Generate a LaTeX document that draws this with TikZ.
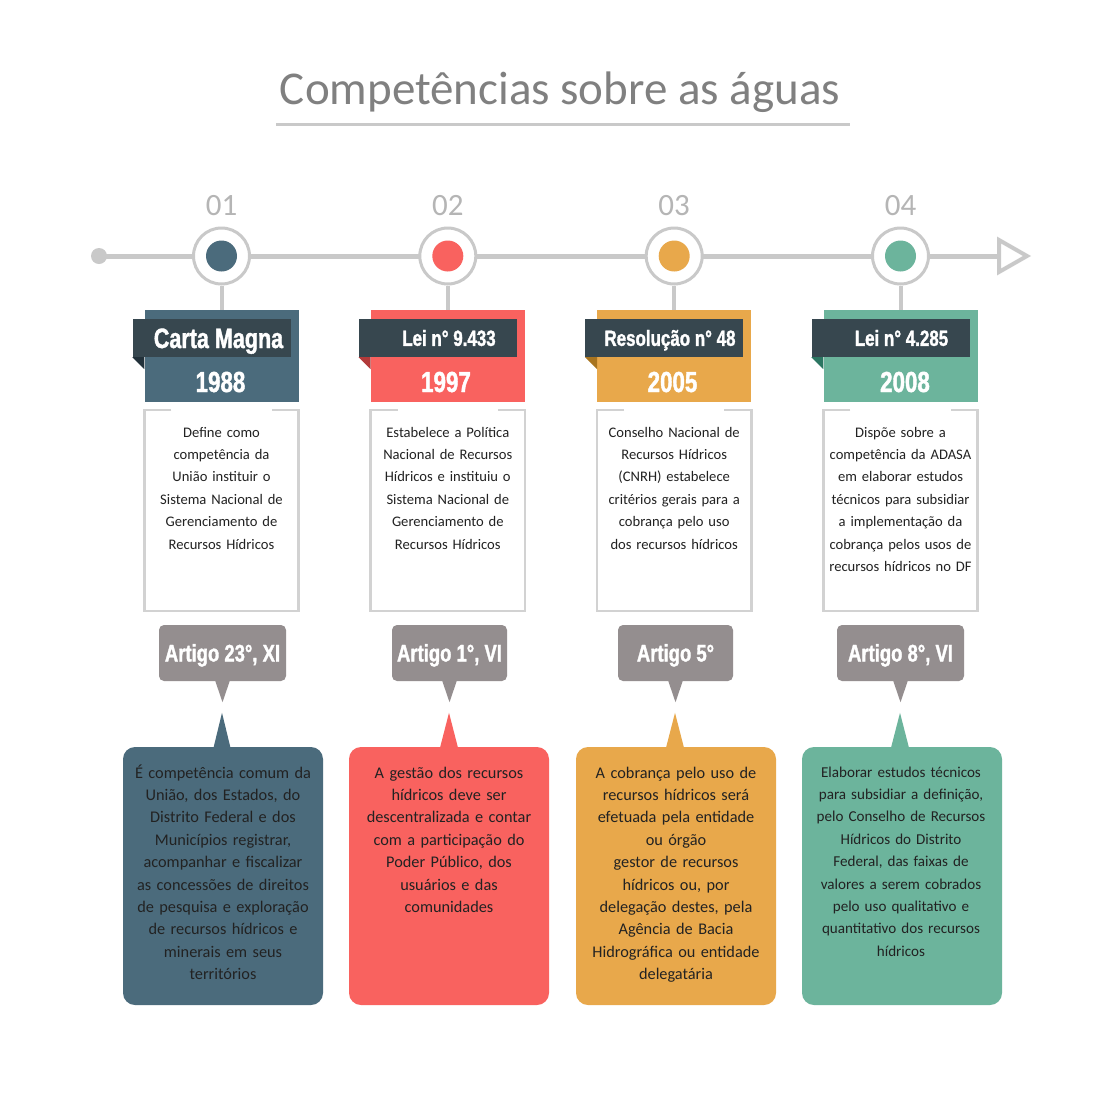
\documentclass[tikz,border=0pt]{standalone}
\usepackage{fontspec}
\setmainfont{Carlito}
\newfontfamily\condfont[FakeStretch=0.77,FakeBold=1.4]{Liberation Sans Bold}
\definecolor{cblue}{HTML}{4B6B7C}
\definecolor{cred}{HTML}{F9625F}
\definecolor{corange}{HTML}{E8A84B}
\definecolor{cgreen}{HTML}{6CB49C}
\definecolor{fblue}{HTML}{22313A}
\definecolor{fred}{HTML}{B23A3A}
\definecolor{forange}{HTML}{A8741F}
\definecolor{fgreen}{HTML}{2C7662}
\definecolor{cdark}{HTML}{37474F}
\definecolor{cgray}{HTML}{948E8F}
\definecolor{cline}{HTML}{C9C9C9}
\definecolor{cborder}{HTML}{D2D2D2}
\definecolor{ctitle}{HTML}{808080}
\definecolor{cnum}{HTML}{B5B5B5}
\definecolor{ctext}{HTML}{222222}
\begin{document}
\begin{tikzpicture}[x=1pt,y=-1pt,
  ringnode/.style={circle,draw=cline,line width=3,fill=white,minimum size=56,inner sep=0},
  dotnode/.style={circle,minimum size=31,inner sep=0},
  numtxt/.style={anchor=base,text=cnum,font=\fontsize{31}{36}\selectfont,inner sep=0},
  hdrbox/.style={minimum width=154,minimum height=92,inner sep=0},
  lblbox/.style={fill=cdark,minimum width=158,minimum height=38,inner sep=0},
  lbltxt/.style={text=white,font=\condfont\fontsize{22}{24}\selectfont,text height=15.7,text depth=0,inner sep=0},
  yeartxt/.style={text=white,font=\condfont\fontsize{29}{30}\selectfont,text height=21,text depth=0,inner sep=0},
  descbox/.style={fill=white,minimum width=154,minimum height=201,inner sep=0},
  descline/.style={draw=cborder,line width=2.5},
  desctxt/.style={anchor=north,text=ctext,text width=154,align=center,inner sep=0,font=\fontsize{14.6}{22.4}\selectfont},
  artbox/.style={fill=cgray,rounded corners=5,minimum height=56,inner sep=0,text=white,font=\condfont\fontsize{24}{26}\selectfont,text height=17,text depth=0},
  bigbox/.style={rounded corners=12,minimum width=200,minimum height=258,inner sep=0},
  bigtxt/.style={anchor=north,text=ctext,text width=196,align=center,inner sep=0,font=\fontsize{16.3}{22.4}\selectfont},
  conn/.style={draw=cline,line width=4}
]
\useasboundingbox[fill=white] (0,0) rectangle (1120,1120);

% title
\node[anchor=base,text=ctitle,font=\fontsize{47}{56}\selectfont,inner sep=0] (title) at (560,104) {Competências sobre as águas};
\coordinate (ula) at (276,124);
\coordinate (ulb) at (850,124);
\draw[cline,line width=3] (ula) -- (ulb);

% timeline
\node[circle,fill=cline,minimum size=16,inner sep=0] (start) at (99,256) {};
\coordinate (abase) at (999,256);
\coordinate (atip) at (1027,256);
\draw[cline,line width=5] (start.center) -- (abase);
\draw[cline,line width=4,line join=miter] ([yshift=16]abase) -- (atip) -- ([yshift=-16]abase) -- cycle;

% rings
\node[ringnode] (c1) at (221.5,256) {};
\node[ringnode] (c2) at (447.8,256) {};
\node[ringnode] (c3) at (674.2,256) {};
\node[ringnode] (c4) at (900.5,256) {};
\node[dotnode,fill=cblue] (p1) at (c1) {};
\node[dotnode,fill=cred] (p2) at (c2) {};
\node[dotnode,fill=corange] (p3) at (c3) {};
\node[dotnode,fill=cgreen] (p4) at (c4) {};
\node[numtxt] (n1) at (221.5,215) {01};
\node[numtxt] (n2) at (447.8,215) {02};
\node[numtxt] (n3) at (674.2,215) {03};
\node[numtxt] (n4) at (900.5,215) {04};

% header boxes
\node[hdrbox,fill=cblue] (h1) at (221.5,356) {};
\node[hdrbox,fill=cred] (h2) at (447.8,356) {};
\node[hdrbox,fill=corange] (h3) at (674.2,356) {};
\node[hdrbox,fill=cgreen] (h4) at (900.5,356) {};
\draw[conn] (c1.south) -- (h1.north);
\draw[conn] (c2.south) -- (h2.north);
\draw[conn] (c3.south) -- (h3.north);
\draw[conn] (c4.south) -- (h4.north);

\node[lblbox] (l1) at (211.5,338) {};
\node[lblbox] (l2) at (437.8,338) {};
\node[lblbox] (l3) at (664.2,338) {};
\node[lblbox] (l4) at (890.5,338) {};
\fill[fblue] (l1.south west) -- ++(12,0) -- ++(0,12) -- cycle;
\fill[fred] (l2.south west) -- ++(12,0) -- ++(0,12) -- cycle;
\fill[forange] (l3.south west) -- ++(12,0) -- ++(0,12) -- cycle;
\fill[fgreen] (l4.south west) -- ++(12,0) -- ++(0,12) -- cycle;

\node[lbltxt,font=\condfont\fontsize{28}{30}\selectfont,text height=20] (lt1) at (218.5,338) {Carta Magna};
\node[lbltxt] (lt2) at (449,338) {Lei n° 9.433};
\node[lbltxt] (lt3) at (670,338) {Resolução n° 48};
\node[lbltxt] (lt4) at (901.5,338) {Lei n° 4.285};
\node[yeartxt] (y1) at (220.5,381.5) {1988};
\node[yeartxt] (y2) at (446,381.5) {1997};
\node[yeartxt] (y3) at (672.5,381.5) {2005};
\node[yeartxt] (y4) at (905,381.5) {2008};

% description boxes
\foreach \i/\x in {1/221.5,2/447.8,3/674.2,4/900.5}{
  \node[descbox] (d\i) at (\x,510.5) {};
  \draw[descline] ([xshift=27]d\i.north west) -- (d\i.north west) -- (d\i.south west) -- (d\i.south east) -- (d\i.north east) -- ([xshift=-27]d\i.north east);
}
\node[desctxt] (dt1) at (221.5,421.3) {\strut Define como\\competência da\\União instituir o\\Sistema Nacional de\\Gerenciamento de\\Recursos Hídricos};
\node[desctxt] (dt2) at (447.8,421.3) {\strut Estabelece a Política\\Nacional de Recursos\\Hídricos e instituiu o\\Sistema Nacional de\\Gerenciamento de\\Recursos Hídricos};
\node[desctxt] (dt3) at (674.2,421.3) {\strut Conselho Nacional de\\Recursos Hídricos\\(CNRH) estabelece\\critérios gerais para a\\cobrança pelo uso\\dos recursos hídricos};
\node[desctxt] (dt4) at (900.5,421.3) {\strut Dispõe sobre a\\competência da ADASA\\em elaborar estudos\\técnicos para subsidiar\\a implementação da\\cobrança pelos usos de\\recursos hídricos no DF};

% artigo boxes
\node[artbox,minimum width=127] (a1) at (222.5,653) {Artigo 23°, XI};
\node[artbox,minimum width=115] (a2) at (449.5,653) {Artigo 1°, VI};
\node[artbox,minimum width=115] (a3) at (675.5,653) {Artigo 5°};
\node[artbox,minimum width=127] (a4) at (900.5,653) {Artigo 8°, VI};
\foreach \i in {1,2,3,4}{
  \fill[cgray] ([xshift=-7.5,yshift=1]a\i.south) -- ([yshift=-21]a\i.south) -- ([xshift=7.5,yshift=1]a\i.south) -- cycle;
}

% bottom boxes
\node[bigbox,fill=cblue] (b1) at (223,876) {};
\node[bigbox,fill=cred] (b2) at (449,876) {};
\node[bigbox,fill=corange] (b3) at (676,876) {};
\node[bigbox,fill=cgreen] (b4) at (902,876) {};
\fill[cblue] ([xshift=-9.5,yshift=-1]b1.north) -- ([xshift=-1,yshift=34]b1.north) -- ([xshift=7.5,yshift=-1]b1.north) -- cycle;
\fill[cred] ([xshift=-9,yshift=-1]b2.north) -- ([yshift=34]b2.north) -- ([xshift=9,yshift=-1]b2.north) -- cycle;
\fill[corange] ([xshift=-10,yshift=-1]b3.north) -- ([xshift=-1,yshift=34]b3.north) -- ([xshift=8,yshift=-1]b3.north) -- cycle;
\fill[cgreen] ([xshift=-11,yshift=-1]b4.north) -- ([xshift=-2,yshift=34]b4.north) -- ([xshift=7,yshift=-1]b4.north) -- cycle;

\node[bigtxt] (bt1) at (223,762.3) {\strut É competência comum da\\União, dos Estados, do\\Distrito Federal e dos\\Municípios registrar,\\acompanhar e fiscalizar\\as concessões de direitos\\de pesquisa e exploração\\de recursos hídricos e\\minerais em seus\\territórios};
\node[bigtxt] (bt2) at (449,762.3) {\strut A gestão dos recursos\\hídricos deve ser\\descentralizada e contar\\com a participação do\\Poder Público, dos\\usuários e das\\comunidades};
\node[bigtxt] (bt3) at (676,762.3) {\strut A cobrança pelo uso de\\recursos hídricos será\\efetuada pela entidade\\ou órgão\\gestor de recursos\\hídricos ou, por\\delegação destes, pela\\Agência de Bacia\\Hidrográfica ou entidade\\delegatária};
\node[bigtxt,font=\fontsize{15.1}{22.4}\selectfont] (bt4) at (901,761.3) {\strut Elaborar estudos técnicos\\para subsidiar a definição,\\pelo Conselho de Recursos\\Hídricos do Distrito\\Federal, das faixas de\\valores a serem cobrados\\pelo uso qualitativo e\\quantitativo dos recursos\\hídricos};
\end{tikzpicture}
\end{document}
